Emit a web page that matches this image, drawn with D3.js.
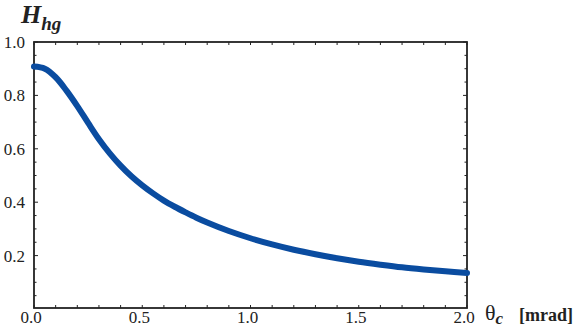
<!DOCTYPE html>
<html><head><meta charset="utf-8">
<script src="https://cdn.jsdelivr.net/npm/d3@7"></script>
<style>body{margin:0;background:#fff}svg{display:block}</style>
</head><body>
<script>
const thetaValues = [0,0.05,0.1,0.15,0.2,0.25,0.3,0.35,0.4,0.45,0.5,0.55,0.6,0.65,0.7,0.75,0.8,0.9,1.0,1.1,1.2,1.3,1.4,1.5,1.6,1.7,1.8,1.9,2.0];
const hValues = [0.908,0.9,0.868,0.818,0.76,0.697,0.636,0.583,0.537,0.497,0.463,0.433,0.406,0.383,0.362,0.342,0.324,0.292,0.265,0.242,0.222,0.205,0.19,0.177,0.166,0.156,0.148,0.141,0.135];
const xMajorTicks = [0,0.5,1.0,1.5,2.0];
const xTickLabels = ["0.0","0.5","1.0","1.5","2.0"];
const yMajorTicks = [0.2,0.4,0.6,0.8,1.0];
const yTickLabels = ["0.2","0.4","0.6","0.8","1.0"];

const W=581,H=328;
const L=34,R=467,T=42,B=308;
const FONT="Times New Roman, Liberation Serif, DejaVu Serif, serif";
const svg=d3.select("body").append("svg").attr("width",W).attr("height",H)
  .style("font-family",FONT);
const x=d3.scaleLinear().domain([0,2]).range([L,R]);
const y=d3.scaleLinear().domain([0,1]).range([B+1,T]);

const ink="#222";

// minor ticks
const xMinor=d3.range(0,2.0001,0.1);
const yMinor=d3.range(0.05,1.0001,0.05);
const g=svg.append("g").attr("stroke",ink).attr("stroke-width",1);
xMinor.forEach(v=>{
  g.append("line").attr("x1",x(v)).attr("x2",x(v)).attr("y1",B).attr("y2",B-3);
  g.append("line").attr("x1",x(v)).attr("x2",x(v)).attr("y1",T).attr("y2",T+3);
});
yMinor.forEach(v=>{
  const big = yMajorTicks.some(t=>Math.abs(t-v)<1e-6);
  const len = big?4:2.5;
  g.append("line").attr("x1",L).attr("x2",L+len).attr("y1",y(v)).attr("y2",y(v));
  g.append("line").attr("x1",R).attr("x2",R-len).attr("y1",y(v)).attr("y2",y(v));
});

// frame
svg.append("rect").attr("x",L).attr("y",T).attr("width",R-L).attr("height",B-T)
  .attr("fill","none").attr("stroke",ink).attr("stroke-width",1.8);

// curve
const line=d3.line().x((d,i)=>x(thetaValues[i])).y(d=>y(d)).curve(d3.curveCatmullRom.alpha(0.5));
svg.append("path").datum(hValues).attr("d",line).attr("fill","none")
  .attr("stroke","#0a4ca0").attr("stroke-width",6).attr("stroke-linecap","round");

// labels
svg.selectAll(".xl").data(xMajorTicks).enter().append("text")
  .attr("x",(d)=>x(d)-3).attr("y",323).attr("text-anchor","middle")
  .style("font-family",FONT).attr("font-size",17).attr("fill",ink)
  .text((d,i)=>xTickLabels[i]);
svg.selectAll(".yl").data(yMajorTicks).enter().append("text")
  .attr("x",25).attr("y",d=>y(d)+6).attr("text-anchor","end")
  .style("font-family",FONT).attr("font-size",17).attr("fill",ink)
  .text((d,i)=>yTickLabels[i]);

// y title
const t1=svg.append("text").attr("x",21).attr("y",23).style("font-family",FONT)
  .attr("font-weight","bold").attr("font-style","italic").attr("fill",ink);
t1.append("tspan").attr("font-size",26).text("H");
t1.append("tspan").attr("font-size",19).attr("dy",7).text("hg");

// x title
const t2=svg.append("text").attr("x",485).attr("y",320).style("font-family",FONT).attr("fill",ink);
t2.append("tspan").attr("font-size",22).text("θ");
t2.append("tspan").attr("font-size",17).attr("font-weight","bold").attr("font-style","italic").attr("dy",4).text("c");
svg.append("text").attr("x",519).attr("y",321).style("font-family",FONT).attr("font-weight","bold")
  .attr("font-size",18).attr("fill",ink).text("[mrad]");
</script>
</body></html>
